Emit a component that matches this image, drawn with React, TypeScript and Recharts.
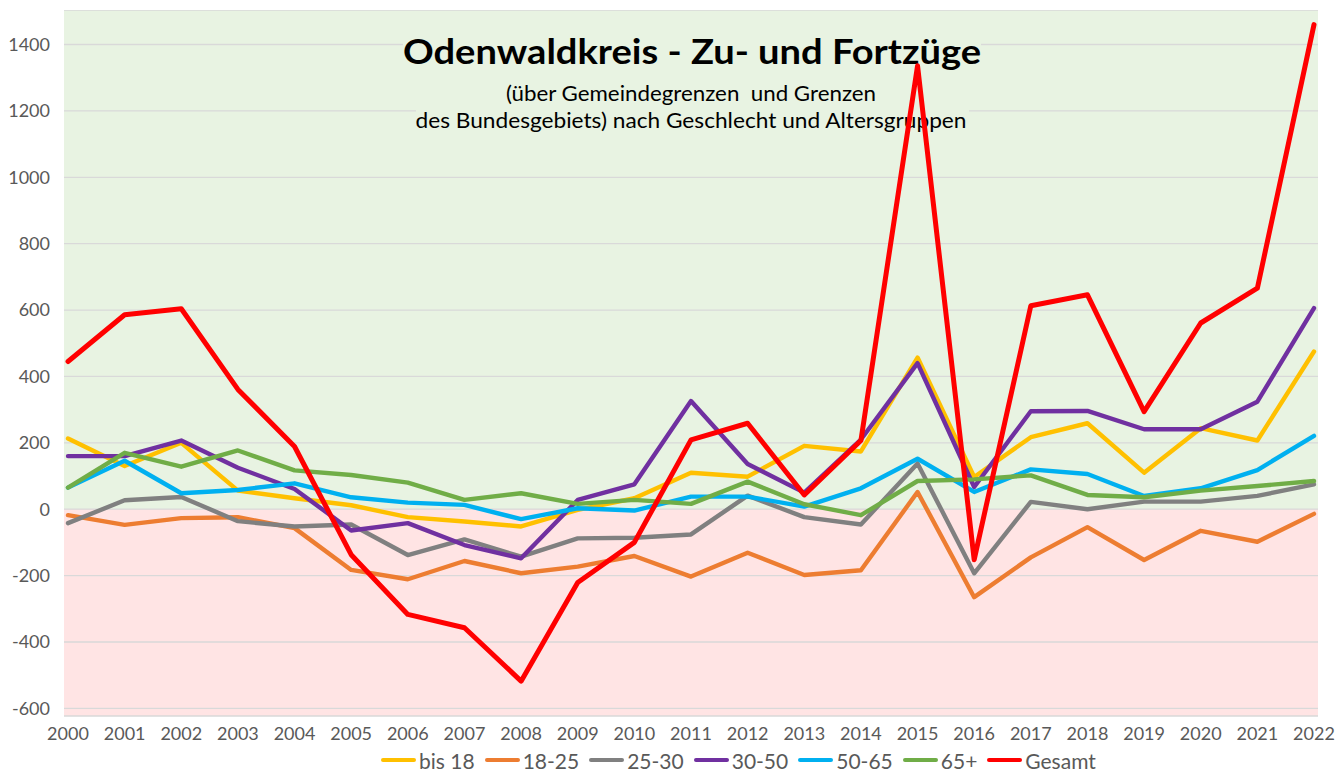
import React from "react";
import { LineChart, Line, XAxis, YAxis, CartesianGrid, Customized } from "recharts";

const years = ["2000","2001","2002","2003","2004","2005","2006","2007","2008","2009","2010","2011","2012","2013","2014","2015","2016","2017","2018","2019","2020","2021","2022"];
const bis18 = [213, 130, 200, 56, 33, 12, -24, -37, -52, -2, 33, 110, 98, 191, 174, 457, 97, 217, 259, 110, 244, 207, 475];
const a18_25 = [-18, -47, -27, -24, -57, -183, -211, -156, -193, -173, -141, -203, -131, -198, -184, 52, -265, -145, -54, -153, -65, -98, -14];
const a25_30 = [-42, 27, 37, -36, -52, -46, -138, -91, -143, -88, -86, -76, 41, -24, -46, 138, -193, 22, 0, 23, 23, 40, 75];
const a30_50 = [160, 160, 207, 125, 61, -64, -42, -108, -148, 28, 75, 326, 136, 50, 210, 440, 67, 295, 296, 241, 241, 324, 606];
const a50_65 = [65, 146, 48, 58, 78, 36, 20, 13, -30, 3, -4, 38, 38, 8, 63, 152, 52, 120, 106, 40, 63, 118, 221];
const a65plus = [65, 170, 128, 177, 117, 103, 80, 28, 48, 16, 28, 16, 83, 15, -18, 85, 90, 102, 43, 36, 56, 70, 85];
const gesamt = [445, 586, 604, 361, 189, -137, -317, -357, -518, -221, -100, 209, 259, 43, 207, 1336, -152, 613, 646, 294, 561, 666, 1460];

const yTicks = [-600, -400, -200, 0, 200, 400, 600, 800, 1000, 1200, 1400];

const seriesNames = ["bis 18", "18-25", "25-30", "30-50", "50-65", "65+", "Gesamt"];
const seriesKeys = ["bis18", "a18_25", "a25_30", "a30_50", "a50_65", "a65plus", "gesamt"];
const seriesColors = ["#FFC000", "#ED7D31", "#808080", "#7030A0", "#00B0F0", "#70AD47", "#FF0000"];
const seriesWidths = [4.4, 4.4, 4.4, 4.4, 4.4, 4.4, 5];

const titleText = "Odenwaldkreis - Zu- und Fortzüge";
const subtitle1 = "(über Gemeindegrenzen  und Grenzen";
const subtitle2 = "des Bundesgebiets) nach Geschlecht und Altersgruppen";

const seriesValues = [bis18, a18_25, a25_30, a30_50, a50_65, a65plus, gesamt];
const data = years.map((y, i) => {
  const row: any = { year: y };
  seriesKeys.forEach((k, s) => { row[k] = seriesValues[s][i]; });
  return row;
});

const GREEN = "#E8F3E2";
const PINK = "#FFE4E4";
const stripeFill = [GREEN, GREEN, GREEN, GREEN, GREEN, GREEN, GREEN, GREEN, PINK, PINK, PINK, PINK];

const FONT = "Lato, 'Open Sans', sans-serif";

const TitleBox = () => (
  <g>
    <rect x={403} y={20} width={578} height={46} fill={GREEN} />
    <rect x={416} y={66} width={553} height={62} fill={GREEN} />
    <text x={692} y={54} textAnchor="middle" fontFamily={FONT} fontWeight={700} fontSize={35} fill="#000" textLength={578} lengthAdjust="spacingAndGlyphs">{titleText}</text>
    <text x={691} y={90.5} textAnchor="middle" fontFamily={FONT} fontSize={21} fill="#000" textLength={370} lengthAdjust="spacingAndGlyphs" style={{ whiteSpace: "pre" }}>{subtitle1}</text>
    <text x={691} y={118} textAnchor="middle" fontFamily={FONT} fontSize={21} fill="#000" textLength={551} lengthAdjust="spacingAndGlyphs">{subtitle2}</text>
  </g>
);

export default function App() {
  return (
    <div style={{ position: "absolute", left: 0, top: 0, width: 1337, height: 772, background: "#fff" }}>
      <div style={{ position: "absolute", left: 0, top: 10 }}>
        <LineChart width={1337} height={762} data={data} margin={{ top: 0, right: 19, left: 0, bottom: 26 }}>
          <CartesianGrid vertical={false} stroke="#D9D9D9" strokeWidth={1.3} horizontalFill={stripeFill} fillOpacity={1} />
          <XAxis dataKey="year" axisLine={false} tickLine={false} tickSize={0} tickMargin={11} height={30} padding={{ left: 4, right: 4 }} interval={0}
            tick={{ fill: "#595959", fontSize: 18, fontFamily: FONT }} />
          <YAxis width={64} domain={[-623, 1504]} ticks={yTicks} axisLine={false} tickLine={false} tickSize={0} tickMargin={14}
            tick={{ fill: "#595959", fontSize: 18, fontFamily: FONT }} allowDataOverflow />
          <Customized component={TitleBox} />
          {seriesKeys.map((k, i) => (
            <Line key={k} type="linear" dataKey={k} name={seriesNames[i]} stroke={seriesColors[i]} strokeWidth={seriesWidths[i]}
              dot={false} activeDot={false} isAnimationActive={false} strokeLinejoin="round" strokeLinecap="round" />
          ))}
        </LineChart>
      </div>
      <div style={{ position: "absolute", left: 381, top: 747, height: 26, display: "flex", alignItems: "center", fontFamily: FONT, fontSize: 21, color: "#595959", whiteSpace: "nowrap" }}>
        {seriesNames.map((n, i) => (
          <div key={n} style={{ display: "flex", alignItems: "center", marginRight: 10 }}>
            <span style={{ display: "inline-block", width: 35, height: 4, background: seriesColors[i], marginRight: 3, borderRadius: 2 }} />
            <span>{n}</span>
          </div>
        ))}
      </div>
    </div>
  );
}
